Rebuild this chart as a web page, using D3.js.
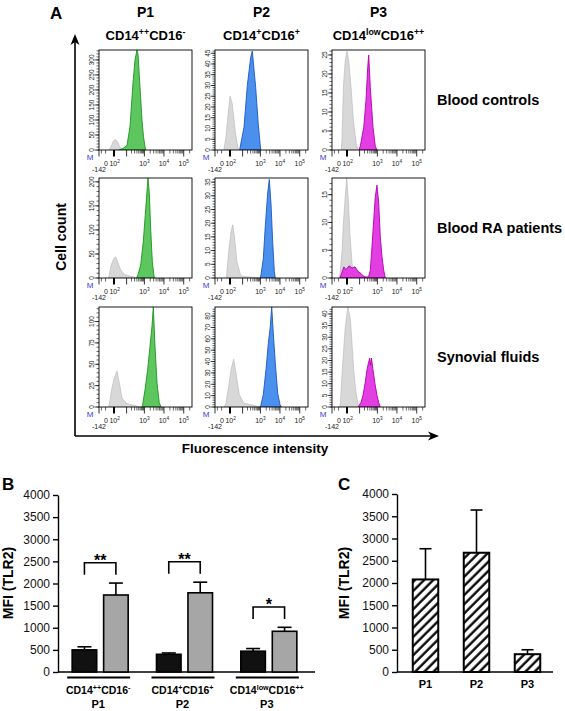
<!DOCTYPE html>
<html><head><meta charset="utf-8">
<script src="https://cdn.jsdelivr.net/npm/d3@7"></script>
<style>
html,body{margin:0;padding:0;background:#fff;}
svg{display:block;font-family:"Liberation Sans",Arial,Helvetica,sans-serif;}
</style></head><body>
<svg id="fig" width="565" height="711"></svg>
<script>
// ================= DATA =================
// Panel A : flow cytometry histograms (x = fluorescence intensity, y = cell count)
const columns = ["P1", "P2", "P3"];
const colTitles = [
  [{t:"CD14"},{t:"++",sup:1},{t:"CD16"},{t:"-",sup:1}],
  [{t:"CD14"},{t:"+",sup:1},{t:"CD16"},{t:"+",sup:1}],
  [{t:"CD14"},{t:"low",sup:1},{t:"CD16"},{t:"++",sup:1}]
];
const rowLabels = ["Blood controls", "Blood RA patients", "Synovial fluids"];

const ctrlP1Iso  = [[-24,0],[-13,10],[-4,28],[4,35],[12.5,30],[24,15],[37,5],[55,0]];
const ctrlP1Tlr2 = [[24,0],[55,5],[106,15],[163,78],[243,222],[315,300],[406,333],[459,320],[587,210],[749,100],[895,45],[1075,10],[1210,0]];
const ctrlP2Iso  = [[-31,0],[-18,6],[-8,16],[0,25],[8,22],[18,14],[30,6],[50,0]];
const ctrlP2Tlr2 = [[62,0],[123,10.6],[195,30],[303,43],[372,46],[565,29],[775,12],[1035,0]];
const ctrlP3Iso  = [[-29,0],[-24,2.6],[-15,17],[-7,23.4],[0,26],[7,23.4],[18,16.4],[35,7],[58,1.8],[74,0]];
const ctrlP3Tlr2 = [[91,0],[111,1],[180,6],[243,13],[303,21.6],[345,25],[422,16.4],[587,6],[775,1],[950,0]];

const raP1Iso  = [[-28,0],[-24,2],[-12,27],[0,41],[7,44],[18,31],[35,17],[66,8],[111,5],[223,3],[459,0]];
const raP1Tlr2 = [[391,0],[459,7],[640,27],[872,75],[1170,143],[1415,190],[1530,208],[1795,177],[2115,102],[2560,34],[3120,4],[3510,0]];
const raP2Iso  = [[-18,0],[-14.5,1],[-5,9.5],[4,17],[11,19.4],[20,15.3],[37,5.9],[70,1.4],[106,0.5],[406,0.3],[950,0]];
const raP2Tlr2 = [[990,0],[1075,1.2],[1415,7],[1795,19],[2380,31],[2880,36],[3510,27],[4290,13],[5170,2.4],[5780,0]];
const raP3Iso  = [[-41,0],[-24,4.5],[-16.5,9.3],[-8,14],[-1,18],[5,14],[12.5,7.5],[26,2],[37,0]];
const raP3Tlr2 = [[-38,0],[-24,1],[-13,2],[-4,1.5],[8,2.2],[24,1.8],[46,2],[78,1.2],[123,0.8],[163,0.4],[214,0.2],[300,0.2],[345,0.3],[422,1.4],[517,5.6],[640,10.4],[775,14.6],[950,16.7],[1170,13.5],[1415,7.4],[1731,3.8],[2115,1.4],[2560,0]];

const sfP1Iso  = [[-26,0],[-22,3],[-10,20],[1,34],[12.5,42],[26,28],[46,10.5],[91,4.7],[187,2.7],[663,0]];
const sfP1Tlr2 = [[749,0],[813,3],[1075,20],[1480,44],[1950,71],[2470,95],[2880,117],[3510,71],[4440,28],[5780,5],[7110,0]];
const sfP2Iso  = [[-29,0],[-18,3.5],[-5,18],[4,33],[16,42],[30,30],[58,11],[118,3.5],[315,2],[990,0]];
const sfP2Tlr2 = [[990,0],[1075,2],[1415,11],[1950,33],[2560,56],[3230,71],[3810,88],[4600,65],[5780,39],[7700,12],[10100,2],[11900,0]];
const sfP3Iso  = [[-42,0],[-36,0.7],[-20,18],[-7,34],[3,43],[14,38],[24,27],[35,16],[55,6],[87,0]];
const sfP3Tlr2 = [[84,0],[91,0.5],[123,2],[163,5],[214,10],[277,16],[335,19],[392,21],[432,18],[487,21],[587,16],[749,10],[950,5],[1210,1.5],[1415,0]];

const isoData  = [[ctrlP1Iso, ctrlP2Iso, ctrlP3Iso],[raP1Iso, raP2Iso, raP3Iso],[sfP1Iso, sfP2Iso, sfP3Iso]];
const tlr2Data = [[ctrlP1Tlr2, ctrlP2Tlr2, ctrlP3Tlr2],[raP1Tlr2, raP2Tlr2, raP3Tlr2],[sfP1Tlr2, sfP2Tlr2, sfP3Tlr2]];
const countMax   = [[333, 46.5, 26.3],[208, 36.5, 18],[117, 88, 43]];
const countStep  = [[50, 5, 5],[50, 5, 5],[25, 10, 5]];
const countLast  = [[300, 45, 25],[200, 35, 15],[100, 80, 40]];

const fluoDomain = [-142, 262144];
const fluoMajor = [0, 100, 1000, 10000, 100000];
const fluoExp   = ["", "2", "3", "4", "5"];
const fluoMinor = [-100, -50, 200,300,400,500,600,700,800,900, 2000,3000,4000,5000,6000,7000,8000,9000, 20000,30000,40000,50000,60000,70000,80000,90000, 200000];

// Panel B : MFI (TLR2), blood (black) vs synovial fluid (grey)
const bGroups  = ["P1", "P2", "P3"];
const bGroupNames = [
  [{t:"CD14"},{t:"++",sup:1},{t:"CD16"},{t:"-",sup:1}],
  [{t:"CD14"},{t:"+",sup:1},{t:"CD16"},{t:"+",sup:1}],
  [{t:"CD14"},{t:"low",sup:1},{t:"CD16"},{t:"++",sup:1}]
];
const bloodMFI = [500, 400, 470];
const bloodSEM = [70, 30, 60];
const sfMFI    = [1740, 1790, 920];
const sfSEM    = [270, 240, 90];
const bSig     = ["**", "**", "*"];
const mfiTicks = [0, 500, 1000, 1500, 2000, 2500, 3000, 3500, 4000];

// Panel C
const cGroups = ["P1", "P2", "P3"];
const cMFI    = [2080, 2680, 400];
const cSEM    = [690, 960, 100];

// ================= DRAWING =================
const svg = d3.select("#fig");
const FONT = "'Liberation Sans', Arial, Helvetica, sans-serif";

function rich(sel, parts, size) {
  let shift = 0;
  parts.forEach(p => {
    const target = p.sup ? -size * 0.42 : 0;
    sel.append("tspan")
      .attr("dy", target - shift)
      .style("font-size", (p.sup ? size * 0.68 : size) + "px")
      .text(p.t);
    shift = target;
  });
}

// defs
const defs = svg.append("defs");
defs.append("clipPath").attr("id", "boxclip").append("rect")
  .attr("x", 0).attr("y", 0).attr("width", 93).attr("height", 100);
const hatch = defs.append("pattern").attr("id", "hatch")
  .attr("patternUnits", "userSpaceOnUse").attr("width", 6.5).attr("height", 6.5)
  .attr("patternTransform", "rotate(45)");
hatch.append("rect").attr("width", 6.5).attr("height", 6.5).attr("fill", "#fff");
hatch.append("line").attr("x1", 1.5).attr("y1", 0).attr("x2", 1.5).attr("y2", 6.5)
  .attr("stroke", "#000").attr("stroke-width", 2.3);

// ---------- Panel A ----------
svg.append("text").attr("x", 50).attr("y", 19).attr("font-size", 17).attr("font-weight", "bold").text("A");

const boxLeft = [99, 215, 332];
const boxTop = [50, 178, 307];
const BW = 93, BH = 100;
const colCenters = boxLeft.map(l => l + BW / 2);

columns.forEach((c, i) => {
  svg.append("text").attr("x", colCenters[i]).attr("y", 17).attr("text-anchor", "middle")
    .attr("font-size", 14).attr("font-weight", "bold").text(c);
  const t = svg.append("text").attr("x", colCenters[i]).attr("y", 40).attr("text-anchor", "middle")
    .attr("font-weight", "bold");
  rich(t, colTitles[i], 13);
});

rowLabels.forEach((r, i) => {
  svg.append("text").attr("x", 437).attr("y", boxTop[i] + 55).attr("font-size", 14.5)
    .attr("font-weight", "bold").text(r);
});

const xFluo = d3.scaleSymlog().constant(30).domain(fluoDomain).range([0, BW]);
const stainFill   = ["#5ec65e", "#4b90ec", "#e23ee2"];
const stainStroke = ["#1b951b", "#1857c4", "#b000b0"];
const labelNudge  = [-8, -12, 0, 0, 0];   // FlowJo squeezes the "0" and "10²" labels leftwards

for (let r = 0; r < 3; r++) {
  for (let c = 0; c < 3; c++) {
    const g = svg.append("g").attr("transform", `translate(${boxLeft[c]},${boxTop[r]})`);
    const y = d3.scaleLinear().domain([0, countMax[r][c]]).range([BH, 0]);
    const area = d3.area().x(d => xFluo(d[0])).y0(BH).y1(d => y(d[1]));
    const clip = g.append("g").attr("clip-path", "url(#boxclip)");
    clip.append("path").datum(isoData[r][c]).attr("d", area)
      .attr("fill", "#d8d8d8").attr("stroke", "#bcbcbc").attr("stroke-width", 0.7);
    clip.append("path").datum(tlr2Data[r][c]).attr("d", area)
      .attr("fill", stainFill[c]).attr("stroke", stainStroke[c]).attr("stroke-width", 0.9);
    g.append("rect").attr("x", 0).attr("y", 0).attr("width", BW).attr("height", BH)
      .attr("fill", "none").attr("stroke", "#000").attr("stroke-width", 0.9);

    // y axis (counts)
    const step = countStep[r][c];
    const majors = d3.range(0, countLast[r][c] + step / 2, step);
    const minors = d3.range(0, countMax[r][c], step / 5);
    minors.forEach(v => g.append("line").attr("x1", -2.5).attr("x2", 0)
      .attr("y1", y(v)).attr("y2", y(v)).attr("stroke", "#000").attr("stroke-width", 0.6));
    majors.forEach(v => {
      g.append("line").attr("x1", -4.5).attr("x2", 0).attr("y1", y(v)).attr("y2", y(v))
        .attr("stroke", "#000").attr("stroke-width", 0.7);
      g.append("text").attr("transform", `translate(-5,${y(v)}) rotate(-90)`)
        .attr("text-anchor", "middle").attr("font-size", 6.5).attr("fill", "#222").text(v);
    });

    // x axis (fluorescence)
    fluoMinor.forEach(v => g.append("line").attr("x1", xFluo(v)).attr("x2", xFluo(v))
      .attr("y1", BH).attr("y2", BH + 3.5).attr("stroke", "#000").attr("stroke-width", 0.6));
    [-142].concat(fluoMajor).forEach(v => g.append("line").attr("x1", xFluo(v)).attr("x2", xFluo(v))
      .attr("y1", BH).attr("y2", BH + 6.5).attr("stroke", "#000").attr("stroke-width", v === 0 ? 2 : 0.8));
    fluoMajor.forEach((v, k) => {
      const t = g.append("text").attr("x", xFluo(v) + labelNudge[k]).attr("y", BH + 16)
        .attr("text-anchor", "middle").attr("font-size", 7).attr("fill", "#222");
      if (k === 0) t.text("0");
      else rich(t, [{t:"10"},{t:fluoExp[k],sup:1}], 7);
    });
    g.append("text").attr("x", xFluo(-142)).attr("y", BH + 22).attr("text-anchor", "middle")
      .attr("font-size", 7).attr("fill", "#222").text("-142");
    g.append("text").attr("x", -9).attr("y", BH + 10).attr("text-anchor", "middle")
      .attr("font-size", 8).attr("fill", "#3a3ad0").text("M");
  }
}

// axes arrows of panel A
svg.append("line").attr("x1", 75).attr("y1", 436).attr("x2", 75).attr("y2", 42)
  .attr("stroke", "#000").attr("stroke-width", 1.6);
svg.append("path").attr("d", "M75,34 L70.5,45 L75,42 L79.5,45 Z").attr("fill", "#000");
svg.append("line").attr("x1", 75).attr("y1", 436).attr("x2", 431).attr("y2", 436)
  .attr("stroke", "#000").attr("stroke-width", 1.6);
svg.append("path").attr("d", "M439,436 L428,431.5 L431,436 L428,440.5 Z").attr("fill", "#000");
svg.append("text").attr("transform", "translate(66,237) rotate(-90)").attr("text-anchor", "middle")
  .attr("font-size", 14).attr("font-weight", "bold").text("Cell count");
svg.append("text").attr("x", 255).attr("y", 453).attr("text-anchor", "middle")
  .attr("font-size", 13.5).attr("font-weight", "bold").text("Fluorescence intensity");

// ---------- Panel B ----------
svg.append("text").attr("x", 2).attr("y", 490).attr("font-size", 17).attr("font-weight", "bold").text("B");
const yB = d3.scaleLinear().domain([0, 4000]).range([672, 495]);
const xB = d3.scaleBand().domain(bGroups).range([58, 311]);
const xBi = d3.scaleBand().domain(["blood", "sf"]).range([0, xB.bandwidth()]).paddingInner(0.22).paddingOuter(0.45);

const gB = svg.append("g");
gB.append("g").attr("transform", "translate(58,0)")
  .call(d3.axisLeft(yB).tickValues(mfiTicks).tickFormat(d3.format("d")).tickSize(5).tickSizeOuter(0).tickPadding(3))
  .call(a => a.selectAll("text").attr("font-size", 12).attr("font-family", FONT).attr("fill", "#111"))
  .call(a => a.selectAll("path,line").attr("stroke", "#000").attr("stroke-width", 1.4));
gB.append("line").attr("x1", 58).attr("x2", 315).attr("y1", yB(0)).attr("y2", yB(0))
  .attr("stroke", "#000").attr("stroke-width", 1.5);
svg.append("text").attr("transform", "translate(13,583) rotate(-90)").attr("text-anchor", "middle")
  .attr("font-size", 14).attr("font-weight", "bold").text("MFI (TLR2)");

bGroups.forEach((grp, i) => {
  const x0 = xB(grp);
  const series = [
    {k: "blood", v: bloodMFI[i], e: bloodSEM[i], fill: "#111"},
    {k: "sf", v: sfMFI[i], e: sfSEM[i], fill: "#a6a6a6"}
  ];
  series.forEach(s => {
    const bx = x0 + xBi(s.k), bw = xBi.bandwidth(), cx = bx + bw / 2;
    gB.append("line").attr("x1", cx).attr("x2", cx).attr("y1", yB(s.v)).attr("y2", yB(s.v + s.e))
      .attr("stroke", "#000").attr("stroke-width", 1.6);
    gB.append("line").attr("x1", cx - 7).attr("x2", cx + 7).attr("y1", yB(s.v + s.e)).attr("y2", yB(s.v + s.e))
      .attr("stroke", "#000").attr("stroke-width", 1.6);
    gB.append("rect").attr("x", bx).attr("y", yB(s.v)).attr("width", bw).attr("height", yB(0) - yB(s.v))
      .attr("fill", s.fill).attr("stroke", "#000").attr("stroke-width", 1.6);
  });
  // significance bracket
  const c1 = x0 + xBi("blood") + xBi.bandwidth() / 2;
  const c2 = x0 + xBi("sf") + xBi.bandwidth() / 2;
  const top = yB(d3.max([bloodMFI[i] + bloodSEM[i], sfMFI[i] + sfSEM[i]]) + 460);
  gB.append("path").attr("d", `M${c1},${top + 12} V${top} H${c2} V${top + 12}`)
    .attr("fill", "none").attr("stroke", "#000").attr("stroke-width", 1.6);
  gB.append("text").attr("x", (c1 + c2) / 2).attr("y", top + 3.5).attr("text-anchor", "middle")
    .attr("font-size", 16).attr("font-weight", "bold").text(bSig[i]);
  // group underline and labels
  const gc = x0 + xB.bandwidth() / 2;
  gB.append("line").attr("x1", gc - 33).attr("x2", gc + 30).attr("y1", 677.5).attr("y2", 677.5)
    .attr("stroke", "#000").attr("stroke-width", 1.8);
  const t = gB.append("text").attr("x", gc - 2).attr("y", 694).attr("text-anchor", "middle").attr("font-weight", "bold");
  rich(t, bGroupNames[i], 10.5);
  gB.append("text").attr("x", gc - 2).attr("y", 708).attr("text-anchor", "middle")
    .attr("font-size", 11).attr("font-weight", "bold").text(grp);
});

// ---------- Panel C ----------
svg.append("text").attr("x", 338).attr("y", 490).attr("font-size", 17).attr("font-weight", "bold").text("C");
const yC = d3.scaleLinear().domain([0, 4000]).range([672, 494]);
const xC = d3.scaleBand().domain(cGroups).range([400, 553]).paddingInner(0.5).paddingOuter(0.25);
const gC = svg.append("g");
gC.append("g").attr("transform", "translate(397,0)")
  .call(d3.axisLeft(yC).tickValues(mfiTicks).tickFormat(d3.format("d")).tickSize(5).tickSizeOuter(0).tickPadding(3))
  .call(a => a.selectAll("text").attr("font-size", 12).attr("font-family", FONT).attr("fill", "#111"))
  .call(a => a.selectAll("path,line").attr("stroke", "#000").attr("stroke-width", 1.4));
gC.append("line").attr("x1", 397).attr("x2", 553).attr("y1", yC(0)).attr("y2", yC(0))
  .attr("stroke", "#000").attr("stroke-width", 1.5);
svg.append("text").attr("transform", "translate(349,583) rotate(-90)").attr("text-anchor", "middle")
  .attr("font-size", 14).attr("font-weight", "bold").text("MFI (TLR2)");

cGroups.forEach((grp, i) => {
  const bx = xC(grp), bw = xC.bandwidth(), cx = bx + bw / 2;
  gC.append("line").attr("x1", cx).attr("x2", cx).attr("y1", yC(cMFI[i])).attr("y2", yC(cMFI[i] + cSEM[i]))
    .attr("stroke", "#000").attr("stroke-width", 1.6);
  gC.append("line").attr("x1", cx - 6).attr("x2", cx + 6).attr("y1", yC(cMFI[i] + cSEM[i])).attr("y2", yC(cMFI[i] + cSEM[i]))
    .attr("stroke", "#000").attr("stroke-width", 1.6);
  gC.append("rect").attr("x", bx).attr("y", yC(cMFI[i])).attr("width", bw).attr("height", yC(0) - yC(cMFI[i]))
    .attr("fill", "url(#hatch)").attr("stroke", "#000").attr("stroke-width", 2);
  gC.append("text").attr("x", cx).attr("y", 688).attr("text-anchor", "middle")
    .attr("font-size", 11).attr("font-weight", "bold").text(grp);
});
</script>
</body></html>
